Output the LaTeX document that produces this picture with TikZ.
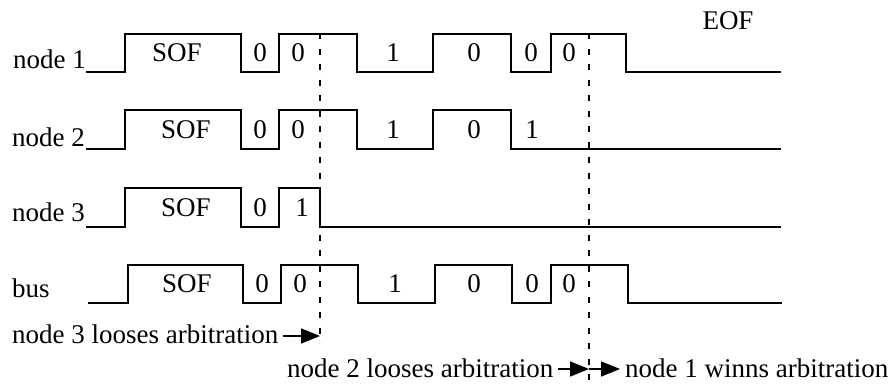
\documentclass[tikz,border=0pt]{standalone}
\usepackage{fontspec}
\setmainfont{Liberation Serif}
\usetikzlibrary{arrows.meta}

\begin{document}
\begin{tikzpicture}[x=1pt,y=-1pt,
  wave/.style={line width=1.6pt},
  cut/.style={line width=1.4pt, dash pattern=on 6pt off 9.5pt},
  lbl/.style={inner sep=0pt, font=\fontsize{27}{32}\selectfont},
  arr/.style={line width=1.6pt, -{Triangle[length=19pt,width=15pt]}}]
  \useasboundingbox (0,0) rectangle (893,383);

  % signal names
  \node[lbl, anchor=base east] (n1) at (86,68)  {node 1};
  \node[lbl, anchor=base east] (n2) at (85,146) {node 2};
  \node[lbl, anchor=base east] (n3) at (85,221) {node 3};
  \node[lbl, anchor=base west] (nb) at (12,297) {bus};

  % node 1
  \draw[wave] (86,72) -| (125,34) -| (241,72) -| (279,34) -| (357,72) -| (433,34)
    -| (511,72) -| (551,34) -| (626,72) -- (781,72);
  % node 2
  \draw[wave] (86,149) -| (125,110) -| (241,149) -| (279,110) -| (357,149) -| (433,110)
    -| (511,149) -- (781,149);
  % node 3
  \draw[wave] (86,227) -| (125,188) -| (241,227) -| (279,188) -| (320,227) -- (781,227);
  % bus
  \draw[wave] (88,303) -| (128,265) -| (243,303) -| (281,265) -| (358,303) -| (435,265)
    -| (512,303) -| (551,265) -| (628,303) -- (782,303);

  % bit labels, node 1
  \node[lbl] (a1) at (177,53) {SOF};
  \node[lbl] (a2) at (260,53) {0};
  \node[lbl] (a3) at (298,53) {0};
  \node[lbl] (a4) at (393,53) {1};
  \node[lbl] (a5) at (474,53) {0};
  \node[lbl] (a6) at (531,53) {0};
  \node[lbl] (a7) at (569,53) {0};
  \node[lbl] (eof) at (728,21) {EOF};
  % bit labels, node 2
  \node[lbl] (b1) at (186,130) {SOF};
  \node[lbl] (b2) at (260,130) {0};
  \node[lbl] (b3) at (298,130) {0};
  \node[lbl] (b4) at (393,130) {1};
  \node[lbl] (b5) at (474,130) {0};
  \node[lbl] (b6) at (532,130) {1};
  % bit labels, node 3
  \node[lbl] (c1) at (186,208) {SOF};
  \node[lbl] (c2) at (260,208) {0};
  \node[lbl] (c3) at (302,208) {1};
  % bit labels, bus
  \node[lbl] (d1) at (187,284) {SOF};
  \node[lbl] (d2) at (262,284) {0};
  \node[lbl] (d3) at (300,284) {0};
  \node[lbl] (d4) at (395,284) {1};
  \node[lbl] (d5) at (474,284) {0};
  \node[lbl] (d6) at (532,284) {0};
  \node[lbl] (d7) at (569,284) {0};

  % arbitration instants
  \coordinate (t3top) at (320,33);
  \coordinate (t3) at (320,336);
  \coordinate (t3end) at (320,343);
  \coordinate (t2top) at (589,33);
  \coordinate (t2) at (589,369);
  \coordinate (t2end) at (589,383);
  \draw[cut] (t3top) -- (t3end);
  \draw[cut] (t2top) -- (t2end);

  % annotations
  \node[lbl, anchor=base west] (l3) at (12,343.5) {node 3 looses arbitration};
  \node[lbl, anchor=base west] (l2) at (287,377) {node 2 looses arbitration};
  \node[lbl, anchor=base west] (l1) at (625,377) {node 1 winns arbitration};
  \draw[arr, shorten <=4pt] (l3.east |- t3) -- (t3);
  \draw[arr, shorten <=4pt] (l2.east |- t2) -- (t2);
  \draw[arr, shorten >=5pt] (t2) -- (l1.west |- t2);
\end{tikzpicture}
\end{document}
